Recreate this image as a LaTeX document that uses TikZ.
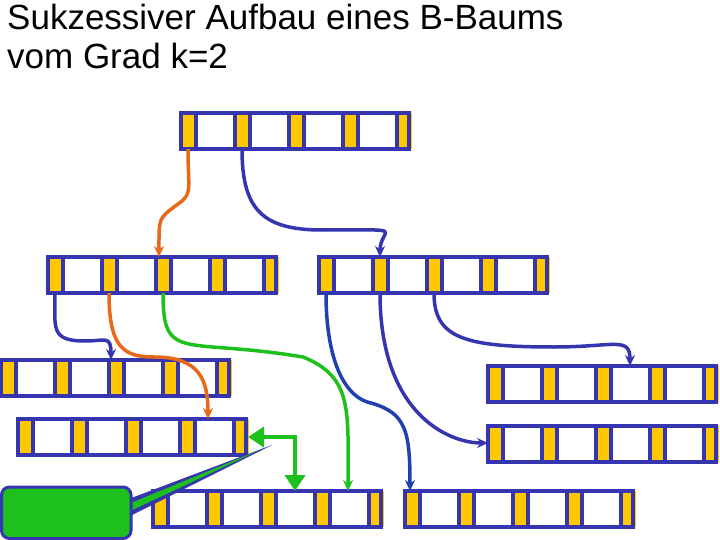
\documentclass[tikz,border=0pt]{standalone}
\usepackage{fontspec}
\setmainfont{Liberation Sans}
\usetikzlibrary{arrows.meta}
\definecolor{nodeblue}{HTML}{3535B0}
\definecolor{ptryellow}{HTML}{FFC800}
\definecolor{linkorange}{HTML}{E8681A}
\definecolor{linkgreen}{HTML}{1EC01E}
\definecolor{linkblue}{HTML}{2040B0}
\tikzset{
  link/.style={line width=3.5pt, -{Stealth[length=11pt,width=10pt]}},
  bigarrow/.style={line width=4.5pt, linkgreen, -{Triangle[length=16pt,width=20pt]}}
}
% B-tree page: 5 pointer cells, 4 key cells
\newcommand{\bpage}[3]{%
  \fill[white] (#2,#3) rectangle ++(228,36);
  \foreach \i in {0,...,4}
    \fill[ptryellow] (#2+\i*54,#3) rectangle ++(15,36);
  \foreach \i in {0,...,3}
    \draw[nodeblue, line width=4pt] (#2+\i*54+15,#3) -- ++(0,36) (#2+\i*54+54,#3) -- ++(0,36);
  \draw[nodeblue, line width=4pt] (#2,#3) rectangle ++(228,36);
  \coordinate (#1) at (#2,#3);
}
\begin{document}
\begin{tikzpicture}[x=1pt,y=-1pt]
  \useasboundingbox (0,0) rectangle (720,540);

  % Title
  \node[anchor=north west, align=left, font=\fontsize{35}{39}\selectfont, inner sep=0pt] (title) at (7,4)
    {Sukzessiver Aufbau eines B-Baums\\vom Grad k=2};

  % Pages
  \bpage{root}{181}{113}
  \bpage{la}{48}{257}
  \bpage{lb}{319}{257}
  \bpage{lc}{1}{360}
  \bpage{ld}{18}{419}
  \bpage{le}{153}{491}
  \bpage{lf}{405}{491}
  \bpage{rg}{488}{366}
  \bpage{rh}{488}{426}

  % Links
  \draw[link, linkorange] ([shift={(7,36)}]root) .. controls +(0,40) and +(15,-10) .. +(-10,55) .. controls +(-20,15) and +(0,-40) .. ([shift={(-22,0)}]la -| root);
  \draw[link, nodeblue] ([shift={(61,36)}]root) .. controls +(0,60) and +(-60,0) .. +(80,81) .. controls +(90,0) and +(0,-30) .. ([shift={(61,0)}]lb);
  \draw[link, nodeblue] ([shift={(7,36)}]la) .. controls +(0,35) and +(-35,0) .. +(30,48) .. controls +(20,0) and +(0,-25) .. ([shift={(110,0)}]lc);
  \draw[link, linkorange] ([shift={(61,36)}]la) .. controls +(0,55) and +(-30,0) .. +(45,64) .. controls +(45,0) and +(0,-40) .. ([shift={(190,0)}]ld);
  \draw[link, linkgreen] ([shift={(115,36)}]la) .. controls +(0,70) and +(-120,-20) .. +(140,64) .. controls +(50,20) and +(0,-80) .. ([shift={(195,0)}]le);
  \draw[link, linkblue] ([shift={(7,36)}]lb) .. controls +(0,70) and +(-25,-5) .. +(45,110) .. controls +(35,10) and +(0,-60) .. ([shift={(5,0)}]lf);
  \draw[link, nodeblue] ([shift={(61,36)}]lb) .. controls +(0,120) and +(-40,0) .. ([shift={(0,17)}]rh);
  \draw[link, nodeblue] ([shift={(115,36)}]lb) .. controls +(0,45) and +(-90,0) .. +(120,54) .. controls +(60,0) and +(0,-30) .. ([shift={(142,0)}]rg);

  % Insertion marker
  \coordinate (corner) at (295,437);
  \draw[bigarrow] ([shift={(2,0)}]corner) -- (248,437);
  \draw[bigarrow] (corner) -- (295,491);

  % Callout
  \fill[nodeblue] (126,500) -- (272,445) -- (126,518) -- cycle;
  \fill[linkgreen] (126,505) -- (262,449) -- (126,513) -- cycle;
  \draw[nodeblue, fill=linkgreen, line width=3pt, rounded corners=8pt] (1.5,487) rectangle (131,538.5);
\end{tikzpicture}
\end{document}
